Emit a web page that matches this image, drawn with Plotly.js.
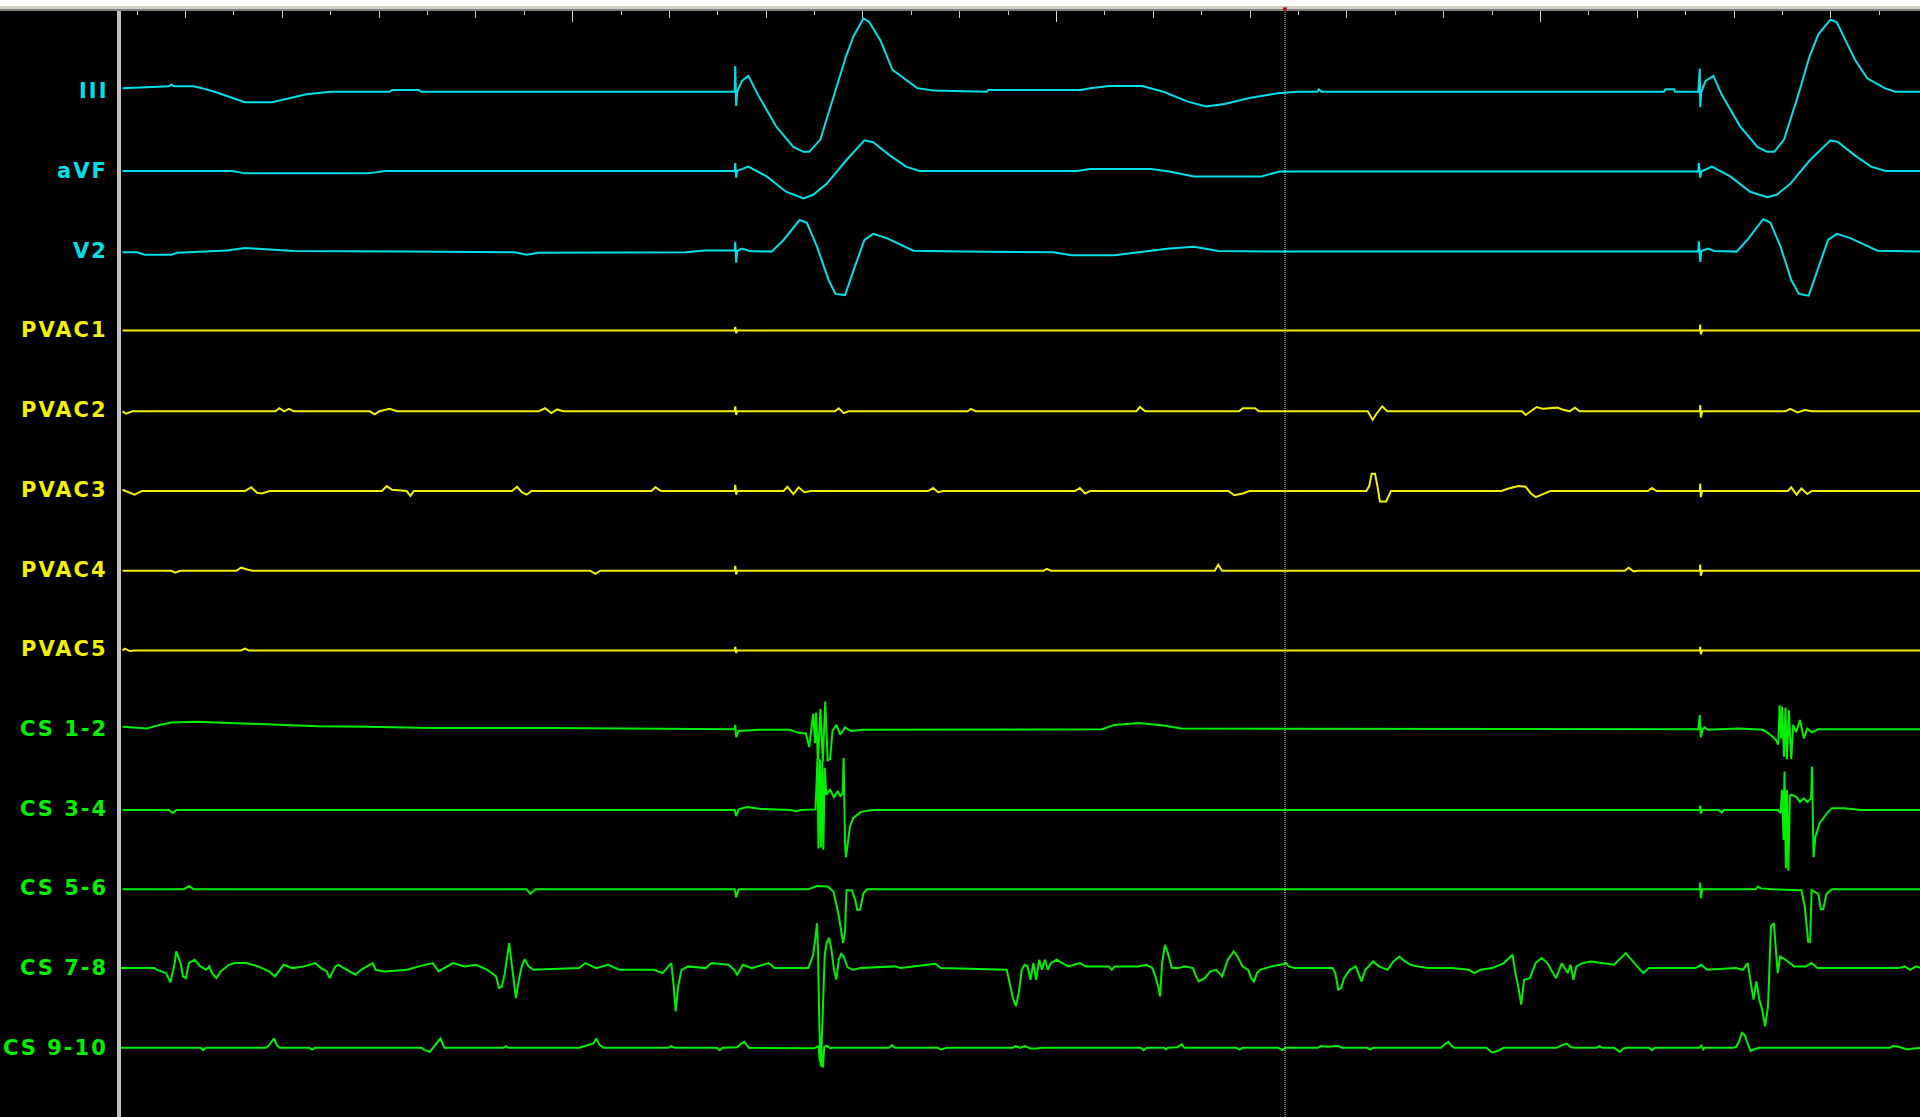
<!DOCTYPE html>
<html>
<head>
<meta charset="utf-8">
<script src="https://cdn.plot.ly/plotly-3.0.1.min.js"></script>
<style>
html,body{margin:0;padding:0;background:#000;overflow:hidden}
#chart{width:1920px;height:1117px}
</style>
</head>
<body>
<div id="chart"></div>
<script>
// Channel names (top to bottom) and their trace colours
const channelNames = ["III","aVF","V2","PVAC1","PVAC2","PVAC3","PVAC4","PVAC5","CS 1-2","CS 3-4","CS 5-6","CS 7-8","CS 9-10"];
const channelColors = ["#00E0E8","#00E0E8","#00E0E8","#F0F000","#F0F000","#F0F000","#F0F000","#F0F000","#00F000","#00F000","#00F000","#00F000","#00F000"];

// Each channel: [time (ms), amplitude (display units)] vertices read from the recording
const III = [[7.0,2.5],[16.6,4],[17.1,5.5],[17.6,4],[21.7,4],[23.4,2.5],[26.0,-0.5],[29.8,-5.5],[32.3,-9],[37.9,-9],[41.2,-6],[45.0,-2.5],[50.0,-0.5],[62.2,-0.5],[62.7,1],[68.2,1],[68.7,-0.5],[133.5,-0.5],[133.6,20.5],[133.8,-12],[134.0,-0.5],[135.0,8.5],[136.3,12.5],[138.3,-3],[142.1,-29],[145.6,-45.5],[147.7,-49.5],[148.9,-49.5],[151.2,-39.5],[153.7,-7.5],[156.5,28.5],[158.0,44.5],[160.1,59.5],[161.3,56.5],[163.6,41.5],[166.1,17.5],[171.2,2.5],[174.5,0.5],[185.6,-0.5],[185.9,1],[205.1,1],[206.9,2.5],[210.9,4.3],[217.7,4.3],[222.1,-0.5],[227.1,-8.5],[230.9,-12.5],[234.7,-10.5],[239.8,-5.5],[246.1,-1.5],[249.9,-0.5],[253.9,-0.5],[254.2,1.5],[254.7,-0.5],[325.5,-0.5],[325.8,1.5],[327.6,1.5],[327.8,-0.5],[332.6,-0.5],[332.9,18.5],[333.0,-13],[333.2,-0.5],[334.1,8.5],[335.7,12.5],[337.4,-2.5],[341.2,-28.5],[344.8,-45.5],[346.8,-49.5],[348.3,-49.5],[350.3,-39.5],[352.9,-7.5],[355.6,28.5],[357.4,46.5],[359.9,58.5],[361.2,56.5],[363.0,41.5],[365.0,25.5],[367.5,10.5],[371.1,2.5],[373.3,-0.5],[378.4,-0.5]];

const aVF = [[7.0,0],[29.8,0],[32.3,-2],[57.6,-2],[61.4,0],[133.5,0],[133.6,6.5],[133.8,-5.5],[134.0,0],[136.3,3.5],[140.1,-4.5],[144.1,-17],[147.7,-22.5],[149.7,-19.5],[152.5,-10.5],[156.5,8.5],[160.3,25],[162.1,23.5],[165.6,12.5],[168.9,3.5],[171.7,0],[204.3,0],[206.9,1.5],[219.5,1.5],[223.3,-0.5],[228.4,-4.5],[242.3,-4.5],[246.1,-0.5],[332.6,-0.5],[332.7,6.5],[333.0,-5.5],[333.2,-0.5],[335.4,3.5],[339.2,-4.5],[343.3,-17],[346.8,-21.5],[348.8,-19.5],[351.6,-10.5],[355.6,8.5],[359.9,25],[361.5,23.5],[365.0,12.5],[368.3,3.5],[371.3,0],[378.4,0]];

const V2 = [[7.0,-1.3],[10.0,-1.3],[11.6,-3.3],[17.1,-3.3],[18.4,-1.8],[28.5,0.2],[32.3,2.2],[36.1,1.2],[42.4,-0.3],[65.2,-0.8],[88.0,-1.3],[90.5,-3.3],[93.0,-1.8],[123.4,-1.3],[127.2,0.2],[133.5,0.2],[133.6,7.3],[133.8,-9.8],[134.0,-0.3],[135.0,1.7],[136.5,-0.3],[141.1,-0.8],[143.6,8.7],[146.9,25],[148.4,22.7],[150.5,3.2],[152.9,-24],[154.3,-35.3],[156.3,-36.3],[158.3,-13.3],[160.3,8.7],[162.1,13.7],[164.9,10.2],[170.4,0],[180.1,-0.8],[199.3,-1.3],[203.1,-3.8],[211.9,-3.8],[217.0,-1.3],[223.3,1.7],[228.4,3.2],[233.4,-0.3],[249.9,-0.8],[332.6,-0.8],[332.7,7.7],[333.0,-9.3],[333.2,-0.3],[334.6,1.7],[335.9,-0.3],[340.5,-0.8],[342.7,8.7],[346.0,25.7],[347.5,22.7],[349.6,3.2],[351.8,-24],[353.4,-35.3],[355.4,-36.8],[357.4,-13.3],[359.4,8.7],[361.2,13.7],[364.0,10.2],[369.6,0],[378.4,-0.8]];

const PVAC1 = [[7.0,-0.2],[133.5,-0.2],[133.6,2.8],[133.8,-2.2],[134.0,-0.2],[332.9,-0.2],[333.0,4.8],[333.1,-3.2],[333.4,-0.2],[378.4,-0.2]];

const PVAC2 = [[7.0,-1],[7.8,-3],[9.0,-1],[38.6,-1],[39.4,1.5],[40.4,-1],[41.4,1],[42.4,-1],[58.1,-1],[59.1,-3.5],[60.1,-1],[62.2,1],[63.7,-1],[93.0,-1],[94.3,1.5],[95.6,-2.5],[96.8,0.5],[98.1,-1],[133.5,-1],[133.6,3],[133.8,-4],[134.0,-1],[154.2,-1],[155.0,1.5],[156.0,-2.5],[157.0,-1],[181.6,-1],[182.3,1],[183.3,-1],[216.5,-1],[217.2,2.5],[218.3,-1],[237.7,-1],[238.5,1.5],[241.0,1.5],[241.8,-1],[264.3,-1],[264.8,-5],[265.3,-8],[266.1,-3],[267.3,3],[268.3,-1],[296.2,-1],[296.9,-4],[297.9,-1],[299.2,2.5],[300.5,1],[303.5,2],[304.5,0.5],[306.0,-1],[307.1,2],[308.1,-1],[332.9,-1],[333.0,4],[333.1,-6],[333.4,-1],[350.6,-1],[351.6,1],[353.1,-2],[354.6,0],[356.1,-1],[378.4,-1]];

const PVAC3 = [[7.0,0],[8.3,-2],[9.5,-4],[11.0,-1],[32.3,-1],[33.6,2],[34.8,-2.5],[35.8,-3],[37.4,-1],[60.6,-1],[61.6,3],[62.7,0],[65.7,-1],[66.5,-5],[67.2,-1],[87.5,-1],[88.5,2.5],[89.5,-2],[90.5,-4],[91.5,-1],[116.3,-1],[117.1,2],[118.3,-1],[133.5,-1],[133.6,4],[133.8,-4],[134.0,-1],[143.6,-1],[144.4,2.5],[145.6,-3.5],[146.7,2],[147.9,-2],[149.2,-1],[173.5,-1],[174.5,1.5],[175.5,-2],[176.5,-1],[203.8,-1],[204.8,1.5],[205.9,-3],[206.9,-1],[235.5,-1],[236.7,-4.5],[238.5,-3],[239.8,-1],[264.0,-1],[264.6,3],[265.1,13],[265.8,13],[266.3,3],[266.8,-9.5],[268.1,-9.5],[269.1,-1],[291.9,-1],[293.4,1],[295.4,3],[296.9,2.5],[298.0,-3],[299.0,-6],[300.5,-3.5],[302.0,-1],[322.2,-1],[323.0,1.5],[324.0,-1],[332.9,-1],[333.0,5],[333.1,-6],[333.4,-1],[351.1,-1],[351.8,2],[352.9,-4],[353.9,1],[355.1,-3.5],[356.1,-1],[378.4,-1]];

const PVAC4 = [[7.0,-1],[17.1,-1],[17.9,-2.5],[18.9,-1],[30.5,-1],[31.5,1.5],[32.8,0],[33.8,-1],[103.6,-1],[104.7,-3.5],[105.7,-1],[133.5,-1],[133.6,3],[133.8,-4],[134.0,-1],[197.3,-1],[198.0,0.5],[198.8,-1],[232.7,-1],[233.4,4],[234.2,-1],[317.4,-1],[318.2,1.5],[319.2,-1.5],[320.2,-1],[332.9,-1],[333.0,4],[333.1,-5],[333.4,-1],[378.4,-1]];

const PVAC5 = [[7.0,-1],[7.5,0.5],[8.5,-1.5],[9.5,-1],[31.5,-1],[32.3,0.5],[33.1,-1],[133.5,-1],[133.6,2],[133.8,-3],[134.0,-1],[332.9,-1],[333.0,2],[333.1,-4],[333.4,-1],[378.4,-1]];

const CS12 = [[7.0,1.8],[9.5,1.3],[12.1,0.3],[14.6,3.3],[17.1,5.3],[22.2,5.8],[26.0,5.3],[31.0,4.3],[39.9,3.3],[47.5,2.3],[57.6,1.8],[70.3,0.8],[95.6,0.8],[123.4,0.3],[133.5,-0.2],[133.6,3.3],[133.8,-6.7],[134.3,-1.7],[138.6,-0.7],[144.9,-0.7],[146.7,-3.2],[148.2,-3.7],[148.9,-14.7],[149.7,12.3],[150.1,-11.7],[150.3,13.3],[150.7,-25.7],[151.2,16.3],[151.7,-26.7],[152.2,22.3],[152.7,-25.7],[153.2,-24.7],[153.7,-1.7],[154.5,3.3],[155.3,-4.7],[156.3,1.3],[157.5,-1.7],[160.1,-0.7],[209.4,-0.2],[211.9,3.3],[217.0,4.8],[222.1,2.8],[225.8,0.3],[332.6,-0.2],[332.9,11.3],[333.1,-6.7],[333.5,-0.2],[333.9,1.3],[334.6,-0.7],[341.0,0.3],[346.0,-0.7],[347.5,-4.7],[348.6,-8.7],[349.1,-12.7],[349.4,19.3],[349.7,-7.7],[349.9,18.3],[350.3,-22.7],[350.6,17.3],[350.9,-24.7],[351.3,15.3],[351.8,-24.7],[352.2,3.3],[352.8,-2.7],[353.6,7.3],[354.4,-7.7],[355.1,0.3],[356.1,-2.7],[357.4,-0.2],[378.4,-0.2]];

const CS34 = [[7.0,-1.1],[16.6,-1.1],[17.4,-3.6],[18.1,-1.1],[133.5,-1.1],[133.8,-6.1],[134.3,-0.6],[136.0,1.4],[138.6,-0.1],[145.1,-1.1],[146.1,-2.1],[147.2,-1.1],[150.2,-0.6],[150.6,41.4],[150.8,-32.6],[151.1,40.4],[151.3,-31.6],[151.6,38.4],[151.8,-33.6],[152.1,33.4],[152.4,11.4],[153.2,15.4],[154.0,9.4],[154.8,14.4],[155.3,10.4],[155.8,12.4],[156.0,41.4],[156.3,-29.6],[156.5,-39.6],[156.9,-25.6],[157.3,-14.6],[158.0,-7.6],[159.6,-2.6],[161.8,-1.1],[332.9,-1.1],[333.0,2.4],[333.1,-4.1],[333.4,-1.1],[336.9,-1.1],[337.4,-3.1],[337.9,-1.1],[349.1,-1.1],[349.6,-3.6],[349.9,15.4],[350.2,-25.6],[350.4,30.4],[350.7,-48.6],[350.9,15.4],[351.2,-50.6],[351.5,10.4],[351.8,11.4],[352.9,9.4],[353.6,5.4],[354.4,8.4],[355.1,5.4],[355.9,8.4],[356.1,34.4],[356.4,-39.6],[356.8,-22.6],[357.7,-11.6],[359.2,-3.6],[360.2,0.4],[362.7,0.4],[366.3,-1.1],[378.4,-1.1]];

const CS56 = [[7.0,-0.8],[19.7,-0.8],[20.7,2],[21.7,-0.8],[90.5,-0.8],[91.3,-4.5],[92.3,-0.8],[133.5,-0.8],[133.8,-7.3],[134.3,-0.8],[148.7,-0.8],[150.5,1.9],[152.7,1.5],[153.9,-2.5],[154.9,-20.3],[155.9,-44.5],[156.3,-34.5],[156.6,-1.5],[157.7,-1.5],[158.4,-9.5],[158.8,-17.5],[159.4,-17.5],[160.1,-4],[160.8,-0.8],[332.9,-0.8],[333.0,4.7],[333.1,-8.1],[333.4,-0.8],[344.5,-0.8],[344.9,1.5],[345.5,0],[348.0,-0.8],[353.9,-1.5],[354.6,-15],[355.3,-43.5],[355.7,-43.5],[356.0,-1.5],[357.4,-4.5],[357.9,-17.1],[358.4,-17.1],[359.1,-4.5],[360.2,-0.8],[378.4,-0.8]];

const CS78 = [[6.5,0],[13.6,0],[14.2,-1.4],[16.0,-4.1],[16.9,-11.7],[17.8,4.1],[18.1,13.6],[19.0,4.1],[19.5,-6.8],[20.1,-8.2],[20.7,4.1],[21.9,6.8],[23.1,1.4],[24.3,-1.4],[24.9,1.4],[25.5,-4.1],[26.4,-8.2],[27.3,-2.7],[29.0,2.7],[30.2,4.1],[32.6,4.1],[35.0,1.4],[37.3,-2.7],[38.5,-6.8],[40.3,2.7],[42.1,0],[44.5,1.4],[46.8,4.1],[48.0,0],[49.2,-2.7],[49.8,-8.2],[51.0,1.4],[51.6,2.7],[53.3,-1.4],[55.1,-5.4],[56.3,-1.4],[58.7,4.1],[59.3,-1.4],[61.1,-2.7],[65.8,-1.4],[68.2,1.4],[71.1,4.1],[72.3,-2.7],[74.1,1.4],[75.3,4.1],[77.7,1.4],[80.0,2.7],[82.4,-1.4],[84.2,-6.8],[84.8,-16.3],[85.4,-15],[86.0,-4.1],[86.9,20.4],[87.4,4.1],[87.9,-15],[88.3,-24.5],[88.9,-9.5],[89.5,1.4],[90.1,7.3],[90.9,1.4],[91.9,-1.4],[101.4,0],[102.6,4.1],[104.9,0],[107.3,2.7],[109.7,-1.4],[116.8,-1.4],[118.6,-4.1],[119.8,1.4],[120.4,4.1],[120.9,-15],[121.3,-35.4],[121.8,-15],[122.5,-1.4],[123.9,1.4],[127.5,0],[128.7,4.1],[132.2,2.7],[133.4,-1.4],[134.0,-5.4],[135.2,2.7],[137.0,0],[140.5,4.1],[141.7,0],[148.7,0],[149.7,10.6],[150.2,25.6],[150.5,36.6],[150.7,15.6],[151.0,-49.4],[151.3,-80.4],[151.7,-29.4],[152.1,10.6],[152.5,20.6],[153.0,24.6],[153.5,14.6],[154.0,-1.4],[154.5,-9.4],[155.0,6.6],[155.5,11.6],[156.0,9.6],[156.8,0.6],[158.0,-1.4],[159.5,0],[166.6,1.4],[167.8,0],[174.9,3.5],[176.1,0],[188.0,-0.8],[189.7,-1.4],[190.3,-12],[191.0,-25],[191.6,-31],[192.2,-20],[192.8,-1.4],[193.4,2.7],[194.0,1.4],[194.6,-9.5],[195.2,4.1],[195.8,-9.5],[196.4,6.8],[197.0,-1.4],[197.6,6.8],[198.2,-1.4],[198.8,4.1],[200.0,6.8],[201.2,4.1],[202.4,1.4],[204.8,4.1],[206.0,1.4],[210.8,1.4],[211.4,-1.4],[212.0,1.4],[216.8,1.4],[218.6,2.7],[219.8,0],[220.4,-6.8],[221.0,-15],[221.4,-23.1],[221.8,4.1],[222.4,19],[223.0,12.2],[223.8,0],[225.2,0],[226.4,1.4],[228.2,0],[228.8,-6.8],[229.4,-10.9],[230.6,-8.2],[231.8,-2.7],[233.0,-1.4],[234.2,-6.8],[235.4,6.8],[236.6,13.6],[237.4,9.5],[238.4,1.4],[239.6,-1.4],[240.2,-8.2],[240.8,-10.9],[241.4,-4.1],[242.0,-1.4],[243.2,0],[244.4,1.4],[246.2,2.7],[247.4,4.1],[248.0,1.4],[249.2,0],[257.0,0],[257.6,-4.1],[258.2,-17.7],[258.8,-16.3],[259.4,-8.2],[260.6,-1.4],[261.8,1.4],[262.4,-4.1],[263.0,-10.9],[263.8,-1.4],[264.8,2.7],[265.4,5.4],[266.6,1.4],[268.4,-1.4],[269.6,5.4],[270.8,9.5],[272.0,5.4],[273.2,2.7],[274.4,1.4],[276.8,0],[281.6,0],[285.2,-1.4],[286.4,-4.1],[287.6,-1.4],[290.0,0],[292.4,4.1],[294.2,10.9],[294.8,-4.1],[295.4,-15],[296.0,-29.9],[296.6,-9.5],[297.8,-8.2],[299.0,4.1],[300.2,8.2],[301.4,4.1],[302.6,-4.1],[303.2,-8.2],[304.4,4.1],[305.6,-4.1],[306.2,2.7],[306.8,-9.5],[307.4,1.4],[308.6,4.1],[310.4,5.4],[312.8,4.1],[315.2,2.7],[317.6,12.2],[318.8,6.8],[320.0,1.4],[321.2,-4.1],[322.4,0],[332.0,0],[333.2,2.7],[334.4,-1.4],[340.4,0],[341.8,-1.4],[342.8,4.1],[343.4,-9.5],[344.0,-25.8],[344.6,-10.9],[345.2,-25.8],[345.8,-34],[346.4,-47.6],[347.0,-31.3],[347.6,34],[348.2,36.7],[348.6,12.2],[349.0,-4.1],[349.5,9.5],[350.6,6.8],[352.4,1.4],[354.8,1.4],[356.0,4.1],[357.2,0],[374.0,0],[375.2,1.4],[376.4,-1.4],[377.6,1.4],[378.6,0]];

const CS910 = [[6.5,0],[23.1,0],[23.7,-1.9],[24.3,0],[36.7,0],[37.3,2.2],[38.3,7.6],[38.9,2.2],[39.5,0],[45.6,0],[46.2,-1.4],[46.8,0],[68.8,0],[69.4,-1.9],[70.5,-3.3],[71.1,-0.5],[72.0,4.1],[72.7,7.6],[73.5,0],[85.7,0],[86.2,1.4],[86.7,0],[101.4,0],[102.8,1.4],[104.3,3.5],[104.9,7.6],[105.6,2.2],[106.4,0],[119.8,0],[120.4,1.4],[121.1,0],[129.8,0],[130.4,-1.9],[131.0,0],[134.0,0.5],[134.8,3.5],[135.5,4.9],[136.4,0],[148.8,0],[149.9,-0.3],[150.5,0.7],[150.8,1.7],[151.1,-11.3],[151.3,0.7],[151.7,-16.3],[152.0,0.7],[152.5,1.7],[153.2,-0.3],[153.6,0],[165.4,0],[166.0,2.2],[166.6,0],[175.5,0],[176.1,-1.4],[177.3,0],[190.9,0],[191.5,1.4],[192.5,0],[193.4,1.4],[194.6,-0.5],[195.8,-0.5],[197.0,0],[217.4,0],[218.0,-1.9],[218.6,0],[222.2,0],[222.6,-1.4],[223.0,0],[225.0,0.5],[225.8,3],[226.4,0],[237.2,0],[237.8,-1.4],[238.4,0],[245.8,0],[246.6,-1.9],[247.3,0],[254.0,0],[254.6,1.4],[255.8,0.8],[258.2,1.4],[259.0,0],[264.2,0],[264.8,-1.4],[265.4,0],[279.4,0],[280.4,3.5],[281.0,4.9],[281.6,1.6],[282.2,0],[288.8,0],[289.4,-1.9],[290.0,-3.8],[291.2,-2.4],[292.4,0],[303.4,0],[304.4,2.2],[305.4,3.5],[306.2,0.8],[306.8,0],[311.6,0],[312.2,1.4],[312.8,0],[315.2,0],[315.8,-1.9],[316.4,-3.3],[317.1,-0.5],[317.8,0],[322.4,0],[323.0,-1.9],[323.6,0],[332.8,0],[333.2,1.9],[333.6,-1.4],[333.9,0],[339.8,0],[340.4,0.8],[341.0,4.9],[341.6,12.2],[342.2,10.3],[342.8,3.5],[343.4,-2.7],[344.0,-1.4],[345.2,0],[372.2,0],[372.8,1.4],[374.0,0.8],[375.8,-1.4],[377.0,-0.5],[378.6,0]];

const channelData = [III, aVF, V2, PVAC1, PVAC2, PVAC3, PVAC4, PVAC5, CS12, CS34, CS56, CS78, CS910];

// Sweep window, cursor and ruler tick intervals (ms)
const timeRange = [6.69, 378.4];
const cursorTime = 247.2;
const tickMinor = 10, tickMedium = 20, tickMajor = 100;

// Vertical layout of the channel stack (display units)
const firstBaseline = 65.5, channelSpacing = 65.1, yDepth = 903.2;
const baseline = i => -(firstBaseline + channelSpacing * i);

const traces = channelData.map((d, i) => ({
  type: 'scatter', mode: 'lines',
  x: d.map(p => p[0]),
  y: d.map(p => p[1] + baseline(i)),
  line: {color: channelColors[i], width: 2},
  hoverinfo: 'skip', showlegend: false, name: channelNames[i]
}));
traces.push({type:'scatter', mode:'lines', x:[null], y:[null], xaxis:'x2', yaxis:'y', showlegend:false, hoverinfo:'skip'});

const H = 1117, TOP = 11, plotH = H - TOP;
const py = px => 1 + (TOP - px) / plotH; // figure px from top -> paper y

const annotations = channelNames.map((n, i) => ({
  xref: 'paper', yref: 'y', x: 0, y: baseline(i),
  xanchor: 'right', yanchor: 'middle', xshift: -11,
  text: '<span style="letter-spacing:2px">' + n + '</span>',
  showarrow: false,
  font: {family: 'DejaVu Sans, Verdana, sans-serif', size: 21, weight: 700, color: channelColors[i]}
}));
annotations.push({
  xref: 'x', yref: 'paper', x: cursorTime, y: py(8), xanchor: 'center', yanchor: 'middle',
  text: '▼', showarrow: false, font: {size: 8, color: '#b00000'}
});

const layout = {
  width: 1920, height: H,
  margin: {l: 121, r: 0, t: TOP, b: 0, pad: 0},
  paper_bgcolor: '#000000', plot_bgcolor: '#000000',
  showlegend: false,
  xaxis: {
    range: timeRange, side: 'top', showgrid: false, zeroline: false, showticklabels: false,
    ticks: 'inside', tick0: 0, dtick: tickMedium, ticklen: 7, tickwidth: 1, tickcolor: '#c8c8c8',
    minor: {tick0: 0, dtick: tickMinor, ticks: 'inside', ticklen: 3.5, tickwidth: 1, tickcolor: '#c8c8c8', showgrid: false},
    showline: true, linecolor: '#808080', linewidth: 1, fixedrange: true
  },
  xaxis2: {
    overlaying: 'x', matches: 'x', side: 'top', showgrid: false, zeroline: false, showticklabels: false,
    ticks: 'inside', tick0: 0, dtick: tickMajor, ticklen: 11, tickwidth: 1, tickcolor: '#d8d8d8', fixedrange: true
  },
  yaxis: {
    range: [-yDepth, 0], showgrid: false, zeroline: false, showticklabels: false, ticks: '',
    showline: true, linecolor: '#c0c0c0', linewidth: 4, fixedrange: true
  },
  shapes: [
    {type:'rect', xref:'paper', yref:'paper', x0:-0.1, x1:1.01, y0:py(6), y1:py(0), fillcolor:'#ffffff', line:{width:0}, layer:'above'},
    {type:'rect', xref:'paper', yref:'paper', x0:-0.1, x1:1.01, y0:py(9), y1:py(6), fillcolor:'#d4d0c8', line:{width:0}, layer:'above'},
    {type:'rect', xref:'paper', yref:'paper', x0:-0.1, x1:1.01, y0:py(11), y1:py(9), fillcolor:'#808080', line:{width:0}, layer:'above'},
    {type:'line', xref:'x', yref:'paper', x0:cursorTime, x1:cursorTime, y0:0, y1:1, line:{color:'#e0e0e0', width:1, dash:'1px,1px'}, layer:'above'}
  ],
  annotations: annotations
};

Plotly.newPlot('chart', traces, layout, {staticPlot: true, displayModeBar: false});
</script>
</body>
</html>
